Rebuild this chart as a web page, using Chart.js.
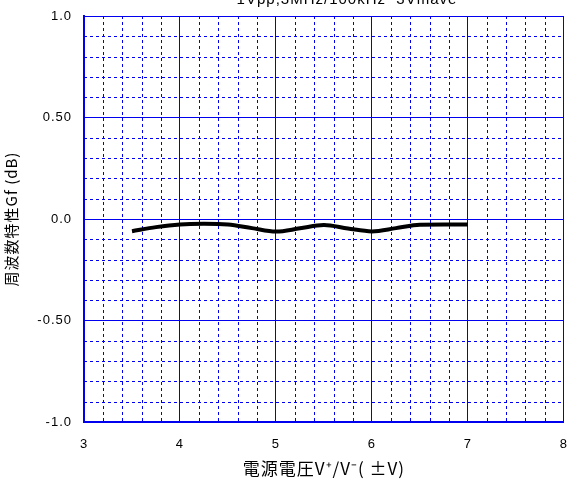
<!DOCTYPE html>
<html>
<head>
<meta charset="utf-8">
<style>
  html, body { margin: 0; padding: 0; background: #ffffff; }
  #wrap { width: 583px; height: 482px; position: relative; }
</style>
<script src="https://cdn.jsdelivr.net/npm/chart.js@4/dist/chart.umd.min.js"></script>
</head>
<body>
<div id="wrap"><canvas id="c" width="583" height="482"></canvas></div>
<script>
// Supply voltage (±V) and frequency characteristic Gf (dB)
const supplyVoltage = [3.5, 3.75, 4.0, 4.25, 4.5, 4.75, 5.0, 5.25, 5.5, 5.75, 6.0, 6.25, 6.5, 6.75, 7.0];
const gainFlatness  = [-0.060, -0.040, -0.027, -0.024, -0.027, -0.045, -0.062, -0.046, -0.030, -0.047, -0.061, -0.045, -0.028, -0.027, -0.027];

const xTickValues = [3, 4, 5, 6, 7, 8];
const yTickValues = [1.0, 0.5, 0.0, -0.5, -1.0];
const yTickLabels = ['1.0', '0.50', '0.0', '-0.50', '-1.0'];

const chartTitle = '1Vpp,3MHz/100kHz  3Vmave';
const xTitle = '電源電圧V⁺/V⁻( ±V)';
const yTitle = '周波数特性Gf (dB)';

const BLUE = '#0000ee';
const FONT = '"Liberation Sans", Arial, sans-serif';
const CJK = '"Noto Sans CJK JP", "Liberation Sans", sans-serif';

// Slightly spaced lettering for all chart text
const spacing = {
  id: 'spacing',
  beforeLayout(chart) { chart.ctx.letterSpacing = '1px'; },
  beforeDraw(chart) { chart.ctx.letterSpacing = '1px'; }
};

// Dashed minor grid (0.2 V, 0.1 dB), drawn through the chart's own scales
const minorGrid = {
  id: 'minorGrid',
  beforeDatasetsDraw(chart) {
    const { ctx, chartArea: a, scales: { x, y } } = chart;
    ctx.save();
    ctx.strokeStyle = BLUE;
    ctx.lineWidth = 1;
    ctx.setLineDash([3, 3]);
    for (let i = 0; i <= 25; i++) {
      if (i % 5 === 0) continue;
      const px = Math.round(x.getPixelForValue(x.min + i * 0.2)) + 0.5;
      ctx.beginPath(); ctx.moveTo(px, a.top); ctx.lineTo(px, a.bottom); ctx.stroke();
    }
    for (let i = 0; i <= 20; i++) {
      if (i % 5 === 0) continue;
      const py = Math.round(y.getPixelForValue(y.min + i * 0.1)) + 0.5;
      ctx.beginPath(); ctx.moveTo(a.left, py); ctx.lineTo(a.right, py); ctx.stroke();
    }
    ctx.restore();
  }
};

// Heading line at the top edge
const topHeading = {
  id: 'topHeading',
  afterDraw(chart) {
    const { ctx } = chart;
    ctx.save();
    ctx.fillStyle = '#000';
    ctx.font = '15px ' + FONT;
    ctx.textAlign = 'center';
    ctx.textBaseline = 'alphabetic';
    ctx.fillText(chartTitle, 347, 4);
    ctx.restore();
  }
};

new Chart(document.getElementById('c'), {
  type: 'line',
  data: {
    datasets: [{
      data: supplyVoltage.map((v, i) => ({ x: v, y: gainFlatness[i] })),
      borderColor: '#000000',
      borderWidth: 4,
      pointRadius: 0,
      tension: 0.4,
      cubicInterpolationMode: 'monotone',
      fill: false
    }]
  },
  options: {
    responsive: false,
    animation: false,
    layout: { padding: { top: 16, right: 19, bottom: 0, left: 0 } },
    plugins: { legend: { display: false }, tooltip: { enabled: false }, title: { display: false } },
    scales: {
      x: {
        type: 'linear',
        min: 3, max: 8,
        afterBuildTicks(s) { s.ticks = xTickValues.map(v => ({ value: v })); },
        afterFit(s) { s.height = 60; },
        grid: { color: BLUE, lineWidth: 1, drawTicks: false },
        border: { color: BLUE, width: 2 },
        ticks: { color: '#000', font: { family: FONT, size: 13 }, padding: 15, maxRotation: 0 },
        title: { display: true, text: xTitle, color: '#000', font: { family: CJK, size: 17 }, padding: { top: 4, bottom: 3 } }
      },
      y: {
        type: 'linear',
        min: -1, max: 1,
        afterBuildTicks(s) { s.ticks = yTickValues.map(v => ({ value: v })); },
        afterFit(s) { s.width = 84; s.paddingTop = 0; s.paddingBottom = 0; },
        grid: { color: BLUE, lineWidth: 1, drawTicks: false },
        border: { color: BLUE, width: 2 },
        ticks: {
          color: '#000', font: { family: FONT, size: 13 }, padding: 12,
          callback(v) { const i = yTickValues.indexOf(v); return i >= 0 ? yTickLabels[i] : ''; }
        },
        title: { display: true, text: yTitle, color: '#000', font: { family: CJK, size: 15 }, padding: { top: 2, bottom: 0 } }
      }
    }
  },
  plugins: [spacing, minorGrid, topHeading]
});
</script>
</body>
</html>
